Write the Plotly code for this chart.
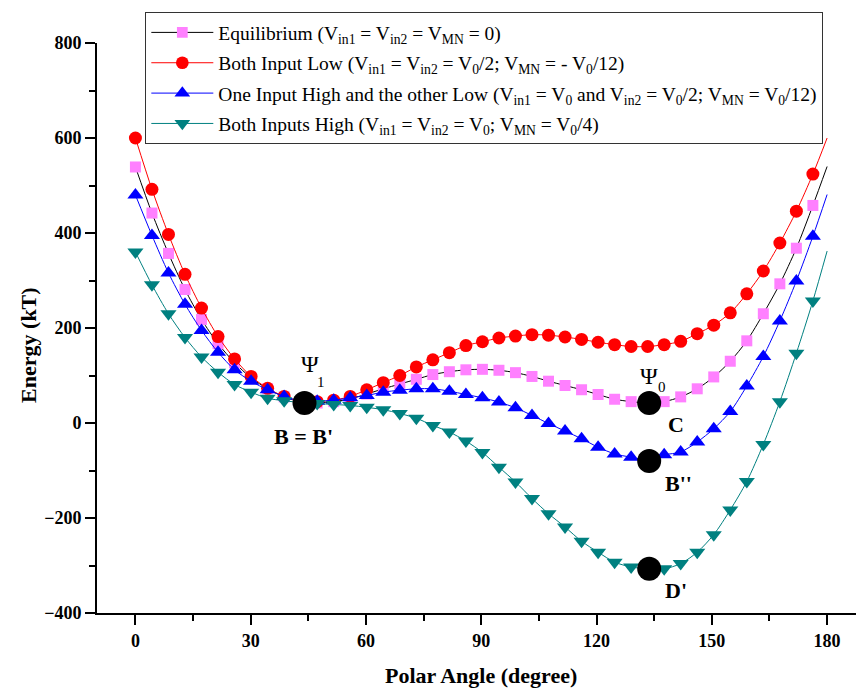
import plotly.graph_objects as go

# Polar angle (degree); markers at all but the final point (180)
angles = [0, 4.3, 8.6, 12.9, 17.2, 21.5, 25.8, 30.1, 34.4, 38.7, 43.0, 47.3, 51.6, 55.9,
          60.2, 64.5, 68.8, 73.1, 77.4, 81.7, 86.0, 90.3, 94.6, 98.9, 103.2, 107.5, 111.8,
          116.1, 120.4, 124.7, 129.0, 133.3, 137.6, 141.9, 146.2, 150.5, 154.8, 159.1,
          163.4, 167.7, 172.0, 176.3, 180]

equilibrium = [539, 442, 357, 281, 218, 167, 127, 95, 72, 55, 45, 42, 45, 51,
               61, 72, 82, 92, 102, 108, 112, 113, 111, 106, 98, 88, 79,
               70, 60, 50, 45, 42, 45, 55, 72, 97, 130, 173,
               230, 293, 368, 458, 540]

both_low = [600, 492, 397, 313, 242, 182, 135, 98, 73, 56, 46, 45, 48, 56,
            70, 85, 100, 118, 133, 148, 163, 171, 179, 183, 186, 185, 181,
            176, 170, 165, 161, 161, 165, 172, 188, 206, 232, 272,
            320, 379, 446, 524, 600]

one_high = [480, 395, 316, 250, 195, 149, 112, 88, 70, 56, 47, 46, 48, 53,
            58, 65, 69, 72, 72, 67, 60, 53, 44, 32, 16, -1, -17,
            -33, -51, -65, -72, -78, -67, -61, -40, -12, 24, 78,
            140, 215, 299, 393, 481]

both_high = [360, 291, 230, 180, 139, 107, 81, 65, 52, 47, 43, 41, 39, 37,
             33, 28, 20, 10, -5, -19, -38, -62, -93, -124, -159, -191, -219,
             -249, -272, -293, -303, -307, -307, -296, -272, -235, -183, -123,
             -45, 45, 147, 257, 362]

# Highlighted states (big black dots)
state_angles = [44.0, 133.7, 133.7, 133.7]
state_energy = [42, 42, -80, -307]

series = [
    ("Equilibrium (V<sub>in1</sub> = V<sub>in2</sub> = V<sub>MN</sub> = 0)",
     equilibrium, "black", "#FF80FF", "square", 11),
    ("Both Input Low (V<sub>in1</sub> = V<sub>in2</sub> = V<sub>0</sub>/2; V<sub>MN</sub> = - V<sub>0</sub>/12)",
     both_low, "red", "red", "circle", 13),
    ("One Input High and the other Low (V<sub>in1</sub> = V<sub>0</sub> and V<sub>in2</sub> = V<sub>0</sub>/2; V<sub>MN</sub> = V<sub>0</sub>/12)",
     one_high, "blue", "blue", "triangle-up", 14),
    ("Both Inputs High (V<sub>in1</sub> = V<sub>in2</sub> = V<sub>0</sub>; V<sub>MN</sub> = V<sub>0</sub>/4)",
     both_high, "#008080", "#008080", "triangle-down", 14),
]

fig = go.Figure()
for k, (name, vals, lc, mc, sym, ms) in enumerate(series):
    sizes = [ms] * (len(angles) - 1) + [0]
    fig.add_trace(go.Scatter(
        x=angles, y=vals, name=name, mode="lines+markers", legendgroup=f"g{k}",
        line=dict(color=lc, width=1, shape="spline", smoothing=0.8),
        marker=dict(color=mc, symbol=sym, size=sizes, opacity=1, line=dict(width=0)),
    ))

fig.add_trace(go.Scatter(
    x=state_angles, y=state_energy, mode="markers", showlegend=False,
    marker=dict(color="black", size=24, symbol="circle", opacity=1),
))

serif = "Times New Roman, Liberation Serif, serif"
label_font = dict(family=serif, size=22, color="black", weight="bold")
psi_font = dict(family=serif, size=24, color="black")
sub_font = dict(family=serif, size=15, color="black")

annots = [
    dict(x=45.3, y=124, text="Ψ", font=psi_font),
    dict(x=48.4, y=86, text="1", font=sub_font),
    dict(x=133.6, y=100, text="Ψ", font=psi_font),
    dict(x=137.0, y=75, text="0", font=sub_font),
    dict(x=43.7, y=-28, text="B = B'", font=label_font),
    dict(x=140.7, y=-3, text="C", font=label_font),
    dict(x=141.2, y=-127, text="B''", font=label_font),
    dict(x=140.7, y=-353, text="D'", font=label_font),
]
for a in annots:
    fig.add_annotation(xref="x", yref="y", showarrow=False,
                       xanchor="center", yanchor="middle", **a)

# Axis titles
fig.add_annotation(xref="paper", yref="paper", x=0.5, y=-0.1097, showarrow=False,
                   text="Polar Angle (degree)", xanchor="center", yanchor="middle",
                   font=dict(family=serif, size=22, color="black", weight="bold"))
fig.add_annotation(xref="paper", yref="paper", x=-0.0895, y=0.471, showarrow=False,
                   text="Energy (kT)", textangle=-90, xanchor="center", yanchor="middle",
                   font=dict(family=serif, size=22, color="black", weight="bold"))

# x-axis line extends slightly left of the y-axis
fig.add_shape(type="line", xref="paper", yref="paper", x0=-0.013, x1=0, y0=0, y1=0,
              line=dict(color="black", width=2))

tick_font = dict(family=serif, size=18, color="black", weight="bold")
fig.update_xaxes(
    range=[-10, 189.6], tick0=0, dtick=30, showline=True, linecolor="black", linewidth=2,
    ticks="outside", ticklen=10, tickwidth=2, tickcolor="black", tickfont=tick_font,
    showgrid=False, zeroline=False,
    minor=dict(dtick=15, tick0=0, ticks="outside", ticklen=6, tickwidth=2, tickcolor="black"),
)
fig.update_yaxes(
    range=[-400, 800], tick0=0, dtick=200, showline=True, linecolor="black", linewidth=2,
    ticks="outside", ticklen=10, tickwidth=2, tickcolor="black", tickfont=tick_font,
    showgrid=False, zeroline=False,
    minor=dict(dtick=100, tick0=0, ticks="outside", ticklen=6, tickwidth=2, tickcolor="black"),
)

# page has an 8px body margin, so the figure is sized to fit the window
fig.update_layout(
    width=856, height=680,
    margin=dict(l=89, r=0, t=35, b=75),
    paper_bgcolor="white", plot_bgcolor="white",
    showlegend=True,
    legend=dict(x=0.063, y=1.054, xanchor="left", yanchor="top",
                bgcolor="white", bordercolor="#333333", borderwidth=1,
                font=dict(family=serif, size=19.5, color="black"),
                itemwidth=62, tracegroupgap=2),
)

fig.write_html("out.html")
